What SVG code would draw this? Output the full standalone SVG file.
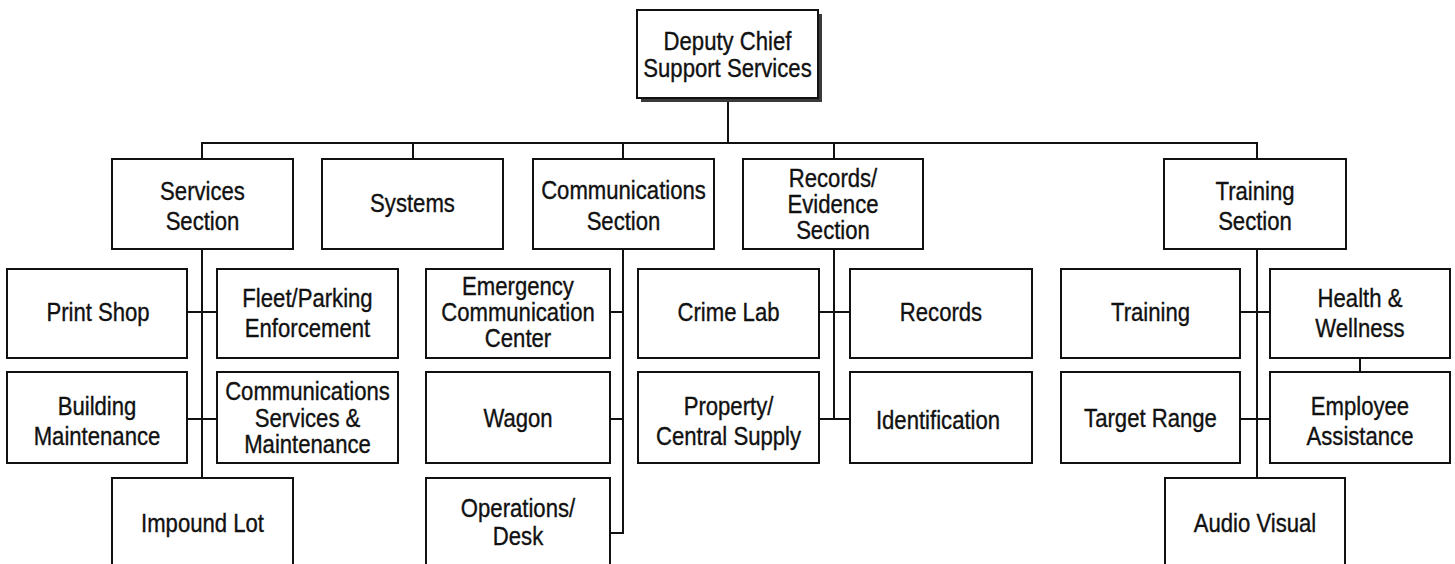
<svg xmlns="http://www.w3.org/2000/svg" width="1455" height="564" viewBox="0 0 1455 564">
<style>
.box{fill:#fff;stroke:#111;stroke-width:2}
.shadow{fill:#3a3a3a}
.ln{stroke:#111;stroke-width:2;fill:none}
text{font-family:"Liberation Sans",Arial,sans-serif;font-size:25px;fill:#111;stroke:#111;stroke-width:0.35;text-anchor:middle}
</style>
<rect width="1455" height="564" fill="#fff"/>
<g id="connectors">
<line class="ln" x1="728" y1="100" x2="728" y2="143"/>
<line class="ln" x1="202" y1="143" x2="1258" y2="143"/>
<line class="ln" x1="202" y1="142" x2="202" y2="159"/>
<line class="ln" x1="413" y1="143" x2="413" y2="159"/>
<line class="ln" x1="623" y1="143" x2="623" y2="159"/>
<line class="ln" x1="834" y1="143" x2="834" y2="159"/>
<line class="ln" x1="1257" y1="142" x2="1257" y2="159"/>
<line class="ln" x1="202" y1="249" x2="202" y2="478"/>
<line class="ln" x1="187" y1="312" x2="217" y2="312"/>
<line class="ln" x1="187" y1="419" x2="217" y2="419"/>
<line class="ln" x1="623" y1="249" x2="623" y2="534"/>
<line class="ln" x1="610" y1="312" x2="623" y2="312"/>
<line class="ln" x1="610" y1="419" x2="623" y2="419"/>
<line class="ln" x1="610" y1="533" x2="624" y2="533"/>
<line class="ln" x1="834" y1="249" x2="834" y2="420"/>
<line class="ln" x1="819" y1="312" x2="850" y2="312"/>
<line class="ln" x1="819" y1="419" x2="850" y2="419"/>
<line class="ln" x1="1257" y1="249" x2="1257" y2="478"/>
<line class="ln" x1="1240" y1="312" x2="1270" y2="312"/>
<line class="ln" x1="1240" y1="419" x2="1270" y2="419"/>
<line class="ln" x1="1360" y1="358" x2="1360" y2="372"/>
</g>
<g id="deputy">
<rect class="shadow" x="641" y="14" width="181" height="88"/>
<rect class="box" x="637" y="10" width="181" height="88"/>
<text transform="translate(727.5 0) scale(0.885 1)"><tspan x="0" y="50">Deputy Chief</tspan><tspan x="0" y="77">Support Services</tspan></text>
</g>
<g id="services-section">
<rect class="box" x="112" y="159" width="181" height="90"/>
<text transform="translate(202.5 0) scale(0.885 1)"><tspan x="0" y="200">Services</tspan><tspan x="0" y="230">Section</tspan></text>
</g>
<g id="systems">
<rect class="box" x="322" y="159" width="181" height="90"/>
<text transform="translate(412.5 0) scale(0.885 1)"><tspan x="0" y="212">Systems</tspan></text>
</g>
<g id="communications-section">
<rect class="box" x="533" y="159" width="181" height="90"/>
<text transform="translate(623.5 0) scale(0.885 1)"><tspan x="0" y="199">Communications</tspan><tspan x="0" y="230">Section</tspan></text>
</g>
<g id="records-evidence-section">
<rect class="box" x="743" y="159" width="180" height="90"/>
<text transform="translate(833 0) scale(0.885 1)"><tspan x="0" y="187">Records/</tspan><tspan x="0" y="213">Evidence</tspan><tspan x="0" y="239">Section</tspan></text>
</g>
<g id="training-section">
<rect class="box" x="1164" y="159" width="182" height="90"/>
<text transform="translate(1255 0) scale(0.885 1)"><tspan x="0" y="200">Training</tspan><tspan x="0" y="230">Section</tspan></text>
</g>
<g id="print-shop">
<rect class="box" x="7" y="269" width="180" height="89"/>
<text transform="translate(98 0) scale(0.885 1)"><tspan x="0" y="321">Print Shop</tspan></text>
</g>
<g id="fleet-parking">
<rect class="box" x="217" y="269" width="181" height="89"/>
<text transform="translate(307.5 0) scale(0.885 1)"><tspan x="0" y="307">Fleet/Parking</tspan><tspan x="0" y="337">Enforcement</tspan></text>
</g>
<g id="building-maintenance">
<rect class="box" x="7" y="372" width="180" height="91"/>
<text transform="translate(97 0) scale(0.885 1)"><tspan x="0" y="415">Building</tspan><tspan x="0" y="445">Maintenance</tspan></text>
</g>
<g id="communications-services">
<rect class="box" x="217" y="372" width="181" height="91"/>
<text transform="translate(307.5 0) scale(0.885 1)"><tspan x="0" y="400">Communications</tspan><tspan x="0" y="427">Services &amp;</tspan><tspan x="0" y="453">Maintenance</tspan></text>
</g>
<g id="impound-lot">
<rect class="box" x="112" y="478" width="181" height="100"/>
<text transform="translate(202.5 0) scale(0.885 1)"><tspan x="0" y="532">Impound Lot</tspan></text>
</g>
<g id="emergency-communication-center">
<rect class="box" x="426" y="269" width="184" height="89"/>
<text transform="translate(518 0) scale(0.885 1)"><tspan x="0" y="295">Emergency</tspan><tspan x="0" y="321">Communication</tspan><tspan x="0" y="347">Center</tspan></text>
</g>
<g id="wagon">
<rect class="box" x="426" y="372" width="184" height="91"/>
<text transform="translate(518 0) scale(0.885 1)"><tspan x="0" y="427">Wagon</tspan></text>
</g>
<g id="operations-desk">
<rect class="box" x="426" y="478" width="184" height="100"/>
<text transform="translate(518 0) scale(0.885 1)"><tspan x="0" y="517">Operations/</tspan><tspan x="0" y="545">Desk</tspan></text>
</g>
<g id="crime-lab">
<rect class="box" x="638" y="269" width="181" height="89"/>
<text transform="translate(728.5 0) scale(0.885 1)"><tspan x="0" y="321">Crime Lab</tspan></text>
</g>
<g id="records">
<rect class="box" x="850" y="269" width="182" height="89"/>
<text transform="translate(941 0) scale(0.885 1)"><tspan x="0" y="321">Records</tspan></text>
</g>
<g id="property-central-supply">
<rect class="box" x="638" y="372" width="181" height="91"/>
<text transform="translate(728.5 0) scale(0.885 1)"><tspan x="0" y="415">Property/</tspan><tspan x="0" y="445">Central Supply</tspan></text>
</g>
<g id="identification">
<rect class="box" x="850" y="372" width="182" height="91"/>
<text transform="translate(938 0) scale(0.885 1)"><tspan x="0" y="429">Identification</tspan></text>
</g>
<g id="training">
<rect class="box" x="1061" y="269" width="179" height="89"/>
<text transform="translate(1150.5 0) scale(0.885 1)"><tspan x="0" y="321">Training</tspan></text>
</g>
<g id="health-wellness">
<rect class="box" x="1270" y="269" width="180" height="89"/>
<text transform="translate(1360 0) scale(0.885 1)"><tspan x="0" y="307">Health &amp;</tspan><tspan x="0" y="337">Wellness</tspan></text>
</g>
<g id="target-range">
<rect class="box" x="1061" y="372" width="179" height="91"/>
<text transform="translate(1150.5 0) scale(0.885 1)"><tspan x="0" y="427">Target Range</tspan></text>
</g>
<g id="employee-assistance">
<rect class="box" x="1270" y="372" width="180" height="91"/>
<text transform="translate(1360 0) scale(0.885 1)"><tspan x="0" y="415">Employee</tspan><tspan x="0" y="445">Assistance</tspan></text>
</g>
<g id="audio-visual">
<rect class="box" x="1165" y="478" width="180" height="100"/>
<text transform="translate(1255 0) scale(0.885 1)"><tspan x="0" y="532">Audio Visual</tspan></text>
</g>
</svg>
